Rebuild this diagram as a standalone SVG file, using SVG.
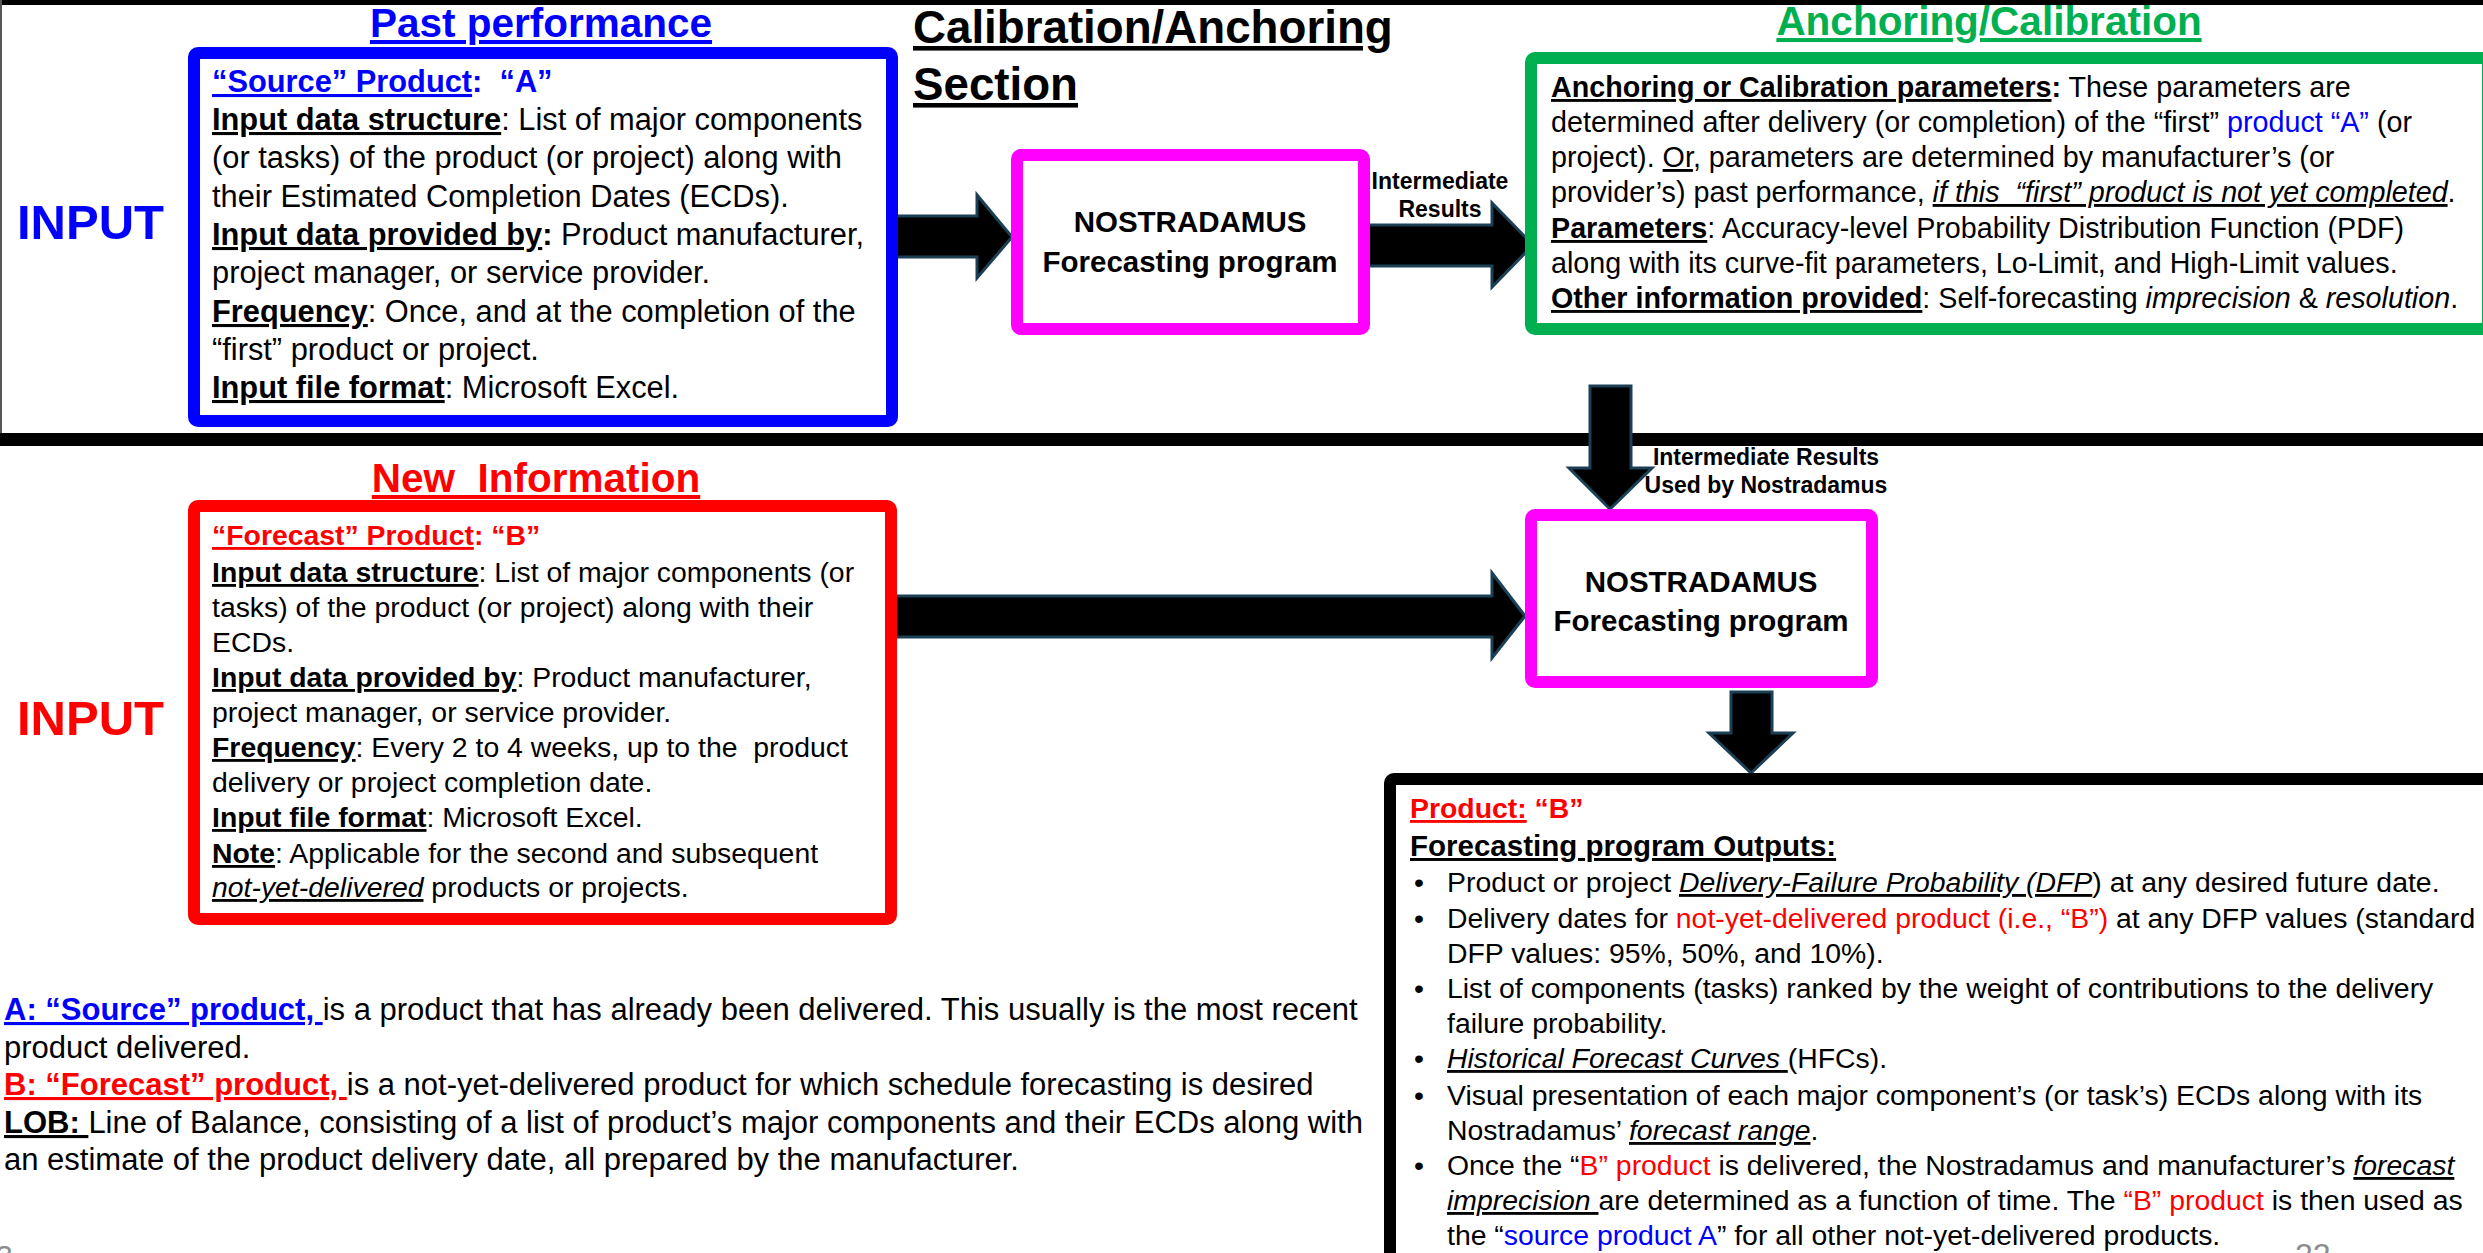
<svg xmlns="http://www.w3.org/2000/svg" width="2483" height="1253" viewBox="0 0 2483 1253">
<style>
text { font-family: "Liberation Sans", Arial, sans-serif; fill: #000; white-space: pre; }
.b { font-weight: bold; }
.u { text-decoration: underline; }
.i { font-style: italic; }
.blue { fill: #0000ff; }
.red { fill: #ff0000; }
.green { fill: #00b050; }
.grey { fill: #8c8c8c; }
.h { font-size: 40.5px; font-weight: bold; text-decoration: underline; }
.inp { font-size: 49px; font-weight: bold; }
.nos { font-size: 29.5px; font-weight: bold; text-anchor: middle; }
.lab { font-size: 23px; font-weight: bold; text-anchor: middle; }
.bb { font-size: 30.8px; }
.gb { font-size: 28.7px; }
.rb { font-size: 28.4px; }
.ob { font-size: 28.4px; }
.lg { font-size: 31px; }
.box { fill: #fff; stroke-width: 12; }
.arrow { fill: #000; stroke: #1b3f55; stroke-width: 3; stroke-linejoin: miter; }
</style>
<rect x="0" y="0" width="2483" height="1253" fill="#fff"/>
<g id="frame">
<rect x="0" y="0" width="2483" height="5" fill="#000"/>
<rect x="0" y="0" width="2" height="440" fill="#555"/>
<rect x="0" y="433" width="2483" height="13" fill="#000"/>
</g>
<g id="titles">
<text class="h blue" x="541" y="37" text-anchor="middle">Past performance</text>
<text class="b u" x="913" y="43" font-size="45.7">Calibration/Anchoring</text>
<text class="b u" x="913" y="100" font-size="45.7">Section</text>
<text class="h green" x="1989" y="35" text-anchor="middle">Anchoring/Calibration</text>
<text class="h red" x="536" y="492" text-anchor="middle">New  Information</text>
<text class="inp blue" x="17" y="239">INPUT</text>
<text class="inp red" x="17" y="735">INPUT</text>
</g>
<g id="connectors">
<polygon class="arrow" points="896,216 977,216 977,195 1012,237 977,278 977,257 896,257"/>
<polygon class="arrow" points="1362,225 1492,225 1492,203 1533,245 1492,287 1492,266 1362,266"/>
<polygon class="arrow" points="1590,386 1631,386 1631,468 1652,468 1610,509 1569,468 1590,468"/>
<polygon class="arrow" points="890,596 1492,596 1492,573 1525,616 1492,658 1492,637 890,637"/>
<polygon class="arrow" points="1731,692 1772,692 1772,733 1793,733 1751,773 1709,733 1731,733"/>
<text class="lab" x="1440" y="189">Intermediate</text>
<text class="lab" x="1440" y="217">Results</text>
<text class="lab" x="1766" y="465">Intermediate Results</text>
<text class="lab" x="1766" y="493">Used by Nostradamus</text>
</g>
<g id="source-product-a">
<rect class="box" x="194" y="53" width="698" height="368" rx="4" stroke="#0000ff"/>
<text class="bb" x="212" y="92"><tspan class="b u blue">“Source” Product</tspan><tspan class="b blue">:  “A”</tspan></text>
<text class="bb" x="212" y="130"><tspan class="b u">Input data structure</tspan>: List of major components</text>
<text class="bb" x="212" y="168">(or tasks) of the product (or project) along with</text>
<text class="bb" x="212" y="207">their Estimated Completion Dates (ECDs).</text>
<text class="bb" x="212" y="245"><tspan class="b u">Input data provided by</tspan><tspan class="b">:</tspan> Product manufacturer,</text>
<text class="bb" x="212" y="283">project manager, or service provider.</text>
<text class="bb" x="212" y="322"><tspan class="b u">Frequency</tspan>: Once, and at the completion of the</text>
<text class="bb" x="212" y="360">“first” product or project.</text>
<text class="bb" x="212" y="398"><tspan class="b u">Input file format</tspan>: Microsoft Excel.</text>
</g>
<g id="nostradamus-1">
<rect class="box" x="1017" y="155" width="347" height="174" rx="4" stroke="#ff00ff"/>
<text class="nos" x="1190" y="232">NOSTRADAMUS</text>
<text class="nos" x="1190" y="272">Forecasting program</text>
</g>
<g id="anchoring-parameters">
<rect class="box" x="1531" y="58" width="957" height="271" rx="4" stroke="#00b050"/>
<text class="gb" x="1551" y="97"><tspan class="b u">Anchoring or Calibration parameters</tspan><tspan class="b">:</tspan> These parameters are</text>
<text class="gb" x="1551" y="132">determined after delivery (or completion) of the “first” <tspan class="blue">product “A”</tspan> (or</text>
<text class="gb" x="1551" y="167">project). <tspan class="u">Or</tspan>, parameters are determined by manufacturer’s (or</text>
<text class="gb" x="1551" y="202">provider’s) past performance, <tspan class="i u">if this  “first” product is not yet completed</tspan>.</text>
<text class="gb" x="1551" y="238"><tspan class="b u">Parameters</tspan>: Accuracy-level Probability Distribution Function (PDF)</text>
<text class="gb" x="1551" y="273">along with its curve-fit parameters, Lo-Limit, and High-Limit values.</text>
<text class="gb" x="1551" y="308"><tspan class="b u">Other information provided</tspan>: Self-forecasting <tspan class="i">imprecision</tspan> &amp; <tspan class="i">resolution</tspan>.</text>
</g>
<g id="forecast-product-b">
<rect class="box" x="194" y="506" width="697" height="413" rx="4" stroke="#ff0000"/>
<text class="rb" x="212" y="545"><tspan class="b u red">“Forecast” Product</tspan><tspan class="b red">: “B”</tspan></text>
<text class="rb" x="212" y="582"><tspan class="b u">Input data structure</tspan>: List of major components (or</text>
<text class="rb" x="212" y="617">tasks) of the product (or project) along with their</text>
<text class="rb" x="212" y="652">ECDs.</text>
<text class="rb" x="212" y="687"><tspan class="b u">Input data provided by</tspan>: Product manufacturer,</text>
<text class="rb" x="212" y="722">project manager, or service provider.</text>
<text class="rb" x="212" y="757"><tspan class="b u">Frequency</tspan>: Every 2 to 4 weeks, up to the  product</text>
<text class="rb" x="212" y="792">delivery or project completion date.</text>
<text class="rb" x="212" y="827"><tspan class="b u">Input file format</tspan>: Microsoft Excel.</text>
<text class="rb" x="212" y="863"><tspan class="b u">Note</tspan>: Applicable for the second and subsequent</text>
<text class="rb" x="212" y="897"><tspan class="i u">not-yet-delivered</tspan> products or projects.</text>
</g>
<g id="nostradamus-2">
<rect class="box" x="1531" y="515" width="341" height="167" rx="4" stroke="#ff00ff"/>
<text class="nos" x="1701" y="592">NOSTRADAMUS</text>
<text class="nos" x="1701" y="631">Forecasting program</text>
</g>
<g id="outputs">
<rect class="box" x="1390" y="779" width="1110" height="500" rx="4" stroke="#000"/>
<text class="ob" x="1410" y="818"><tspan class="b u red">Product:</tspan><tspan class="b red"> “B”</tspan></text>
<text class="b u" x="1410" y="856" font-size="29.5">Forecasting program Outputs:</text>
<text class="ob" x="1414" y="892">•</text>
<text class="ob" x="1447" y="892">Product or project <tspan class="i u">Delivery-Failure Probability (DFP</tspan>) at any desired future date.</text>
<text class="ob" x="1414" y="928">•</text>
<text class="ob" x="1447" y="928">Delivery dates for <tspan class="red">not-yet-delivered product (i.e., “B”)</tspan> at any DFP values (standard</text>
<text class="ob" x="1447" y="963">DFP values: 95%, 50%, and 10%).</text>
<text class="ob" x="1414" y="998">•</text>
<text class="ob" x="1447" y="998">List of components (tasks) ranked by the weight of contributions to the delivery</text>
<text class="ob" x="1447" y="1033">failure probability.</text>
<text class="ob" x="1414" y="1068">•</text>
<text class="ob" x="1447" y="1068"><tspan class="i u">Historical Forecast Curves </tspan>(HFCs).</text>
<text class="ob" x="1414" y="1105">•</text>
<text class="ob" x="1447" y="1105">Visual presentation of each major component’s (or task’s) ECDs along with its</text>
<text class="ob" x="1447" y="1140">Nostradamus’ <tspan class="i u">forecast range</tspan>.</text>
<text class="ob" x="1414" y="1175">•</text>
<text class="ob" x="1447" y="1175">Once the “<tspan class="red">B” product</tspan> is delivered, the Nostradamus and manufacturer’s <tspan class="i u">forecast</tspan></text>
<text class="ob" x="1447" y="1210"><tspan class="i u">imprecision </tspan>are determined as a function of time. The <tspan class="red">“B” product</tspan> is then used as</text>
<text class="ob" x="1447" y="1245">the “<tspan class="blue">source product A</tspan>” for all other not-yet-delivered products.</text>
</g>
<g id="legend">
<text class="lg" x="4" y="1020"><tspan class="b u blue">A: “Source” product, </tspan>is a product that has already been delivered. This usually is the most recent</text>
<text class="lg" x="4" y="1058">product delivered.</text>
<text class="lg" x="4" y="1095"><tspan class="b u red">B: “Forecast” product, </tspan>is a not-yet-delivered product for which schedule forecasting is desired</text>
<text class="lg" x="4" y="1133"><tspan class="b u">LOB: </tspan>Line of Balance, consisting of a list of product’s major components and their ECDs along with</text>
<text class="lg" x="4" y="1170">an estimate of the product delivery date, all prepared by the manufacturer.</text>
</g>
<g id="page-numbers">
<text class="grey" x="-4" y="1266" font-size="30">3</text>
<text class="grey" x="2295" y="1266" font-size="32">22</text>
</g>
</svg>
